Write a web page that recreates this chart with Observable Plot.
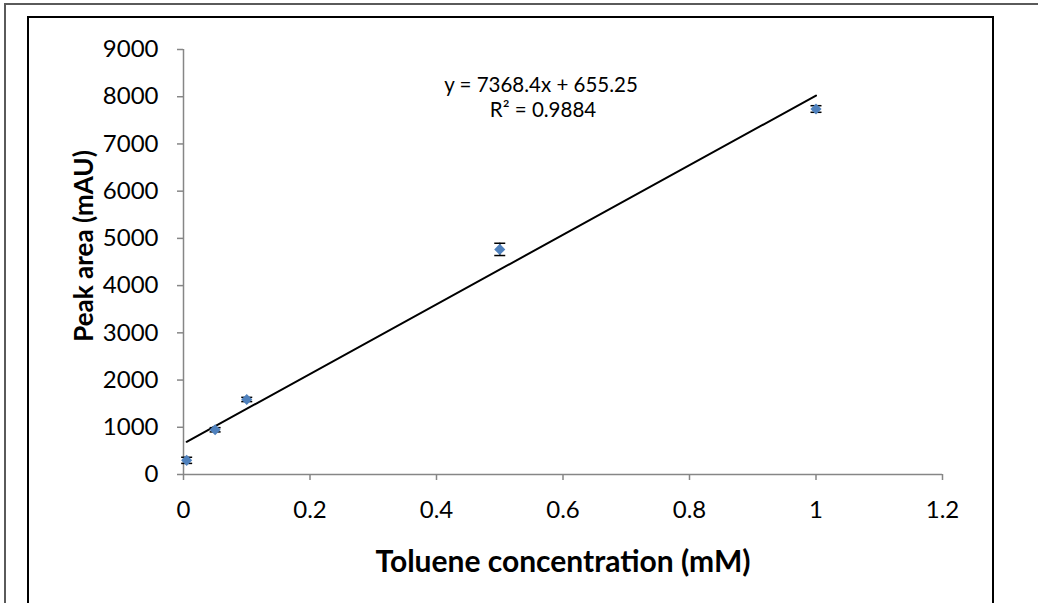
<!DOCTYPE html>
<html>
<head>
<meta charset="utf-8">
<script src="https://cdn.jsdelivr.net/npm/d3@7"></script>
<script src="https://cdn.jsdelivr.net/npm/@observablehq/plot@0.6"></script>
<style>
  html, body { margin: 0; padding: 0; background: #fff; overflow: hidden; }
  #wrap { position: relative; width: 1038px; height: 603px; overflow: hidden; }
  .outer { position: absolute; left: 4px; top: 3px; width: 1100px; height: 700px; border: 2px solid #5a5a5a; box-sizing: border-box; }
  .inner { position: absolute; left: 27px; top: 16px; width: 967px; height: 700px; border: 2px solid #000; box-sizing: border-box; }
  #chart { position: absolute; left: 0; top: 0; }
</style>
</head>
<body>
<div id="wrap">
  <div class="outer"></div>
  <div class="inner"></div>
  <div id="chart"></div>
</div>
<script>
// Data
const concentration = [0.005, 0.05, 0.1, 0.5, 1];
const peakArea = [300, 947, 1589, 4767, 7740];
const peakError = [65, 45, 45, 130, 70];
const xTicks = [0, 0.2, 0.4, 0.6, 0.8, 1, 1.2];
const yTicks = [0, 1000, 2000, 3000, 4000, 5000, 6000, 7000, 8000, 9000];
const trendSlope = [7368.4];
const trendIntercept = [655.25];
const equationLine1 = ["y = 7368.4x + 655.25"];
const equationLine2 = ["R² = 0.9884"];
const xTitle = ["Toluene concentration (mM)"];
const yTitle = ["Peak area (mAU)"];

const points = concentration.map((x, i) => ({x, y: peakArea[i], lo: peakArea[i] - peakError[i], hi: peakArea[i] + peakError[i]}));
const trendX = [d3.min(concentration), d3.max(concentration)];
const trend = trendX.map(x => ({x, y: trendSlope[0] * x + trendIntercept[0]}));

const cap = {draw(ctx) { ctx.moveTo(-5.5, 0); ctx.lineTo(5.5, 0); }};

const chart = Plot.plot({
  width: 1038,
  height: 603,
  marginLeft: 183,
  marginRight: 96,
  marginTop: 49,
  marginBottom: 129,
  style: {fontFamily: "Lato, 'Open Sans', sans-serif", background: "transparent", color: "#000"},
  x: {domain: [0, 1.2]},
  y: {domain: [0, 9000]},
  marks: [
    Plot.ruleY([0], {stroke: "#868686", strokeWidth: 1.5}),
    Plot.ruleX([0], {stroke: "#868686", strokeWidth: 1.5}),
    Plot.axisX({ticks: xTicks, tickFormat: d => String(d), tickSize: 6, tickPadding: 20, fontSize: 24, stroke: "#868686", strokeWidth: 1.5, fill: "#000", label: null}),
    Plot.axisY({ticks: yTicks, tickFormat: d => String(d), tickSize: 6, tickPadding: 19, fontSize: 24, stroke: "#868686", strokeWidth: 1.5, fill: "#000", label: null}),
    Plot.line(trend, {x: "x", y: "y", stroke: "#000", strokeWidth: 2}),
    Plot.ruleX(points, {x: "x", y1: "lo", y2: "hi", stroke: "#000", strokeWidth: 1.5}),
    Plot.dot(points, {x: "x", y: "lo", symbol: cap, r: 3, fill: "none", stroke: "#000", strokeWidth: 1.5}),
    Plot.dot(points, {x: "x", y: "hi", symbol: cap, r: 3, fill: "none", stroke: "#000", strokeWidth: 1.5}),
    Plot.dot(points, {x: "x", y: "y", symbol: "diamond2", r: 5, fill: "#4F81BD", stroke: "none"}),
    Plot.text(equationLine1, {frameAnchor: "top", textAnchor: "middle", dx: -22, dy: 28, fontSize: 20.5, fill: "#000"}),
    Plot.text(equationLine2, {frameAnchor: "top", textAnchor: "middle", dx: -20, dy: 53, fontSize: 20.5, fill: "#000"}),
    Plot.text(xTitle, {frameAnchor: "bottom", textAnchor: "middle", dy: 97, fontSize: 30, fontWeight: "bold", fill: "#000"}),
    Plot.text(yTitle, {frameAnchor: "left", textAnchor: "middle", rotate: -90, dx: -99, dy: -16, fontSize: 26, fontWeight: "bold", fill: "#000"})
  ]
});
document.getElementById("chart").appendChild(chart);
</script>
</body>
</html>
